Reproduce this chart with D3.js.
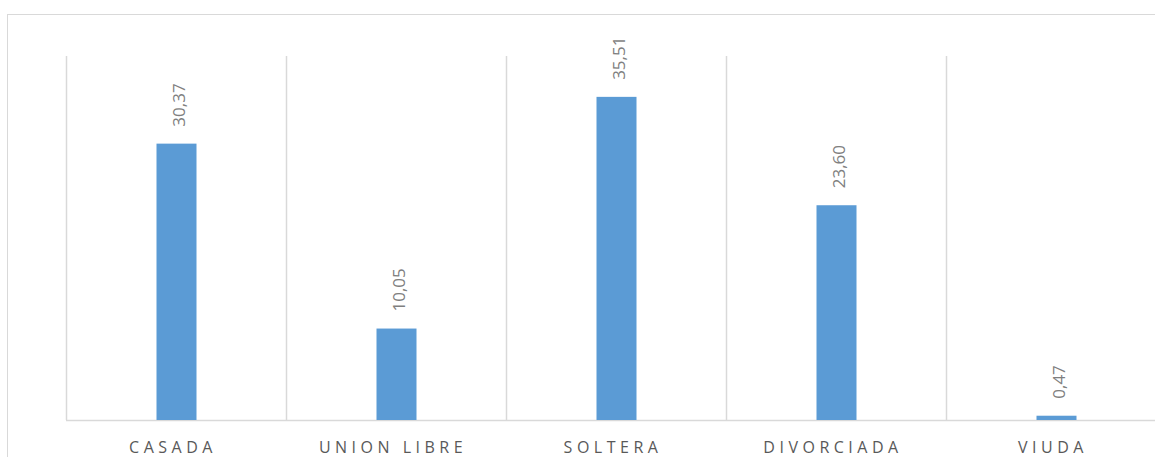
<!DOCTYPE html>
<html lang="es">
<head>
    <meta charset="UTF-8">
    <title>Estado civil</title>
    <style>
        body {
            background: white;
            margin: 0;
            padding: 0;
        }
        .cat-label {
            font: 16px "Open Sans", sans-serif;
            fill: #595959;
            letter-spacing: 4.5px;
        }
        .val-label {
            font: 17px "Open Sans", sans-serif;
            fill: #7f7f7f;
        }
        .bar {
            fill: #5b9bd5;
        }
    </style>
</head>
<body>
    <script src="https://cdn.jsdelivr.net/npm/d3@7"></script>
    <script>
        var categories = ['CASADA', 'UNION LIBRE', 'SOLTERA', 'DIVORCIADA', 'VIUDA'];
        var values = [30.37, 10.05, 35.51, 23.60, 0.47];

        var width = 1155, height = 457;
        var svg = d3.select('body').append('svg')
            .attr('width', width)
            .attr('height', height);

        // marco del grafico
        svg.append('rect')
            .attr('x', 7.5).attr('y', 14.5)
            .attr('width', 1200).attr('height', 500)
            .attr('fill', 'none')
            .attr('stroke', '#d9d9d9');

        var x = d3.scaleBand()
            .domain(categories)
            .range([66.5, 1166.5])
            .paddingInner(0)
            .paddingOuter(0);

        var y = d3.scaleLinear()
            .domain([0, 40])
            .range([420, 56]);

        // lineas verticales entre categorias
        var bounds = categories.map(function(c) { return x(c); });
        svg.selectAll('line.grid')
            .data(bounds)
            .enter().append('line')
            .attr('class', 'grid')
            .attr('x1', function(d) { return d; })
            .attr('x2', function(d) { return d; })
            .attr('y1', y(40))
            .attr('y2', y(0))
            .attr('stroke', '#d9d9d9')
            .attr('stroke-width', 1.5);

        svg.append('line')
            .attr('x1', 66).attr('x2', 1166)
            .attr('y1', y(0) + 0.5).attr('y2', y(0) + 0.5)
            .attr('stroke', '#d9d9d9')
            .attr('stroke-width', 1.5);

        var barW = 40;
        var data = categories.map(function(c, i) { return { cat: c, val: values[i] }; });

        svg.selectAll('rect.bar')
            .data(data)
            .enter().append('rect')
            .attr('class', 'bar')
            .attr('x', function(d) { return x(d.cat) + x.bandwidth() / 2 - barW / 2; })
            .attr('y', function(d) { return y(d.val); })
            .attr('width', barW)
            .attr('height', function(d) { return y(0) - y(d.val); });

        var fmt = function(v) { return v.toFixed(2).replace('.', ','); };

        svg.selectAll('text.val-label')
            .data(data)
            .enter().append('text')
            .attr('class', 'val-label')
            .attr('transform', function(d) {
                var cx = x(d.cat) + x.bandwidth() / 2;
                return 'translate(' + (cx + 8.5) + ',' + (y(d.val) - 17) + ') rotate(-90)';
            })
            .attr('text-anchor', 'start')
            .text(function(d) { return fmt(d.val); });

        svg.selectAll('text.cat-label')
            .data(categories)
            .enter().append('text')
            .attr('class', 'cat-label')
            .attr('x', function(d) { return x(d) + x.bandwidth() / 2 - 3.5; })
            .attr('y', 453)
            .attr('text-anchor', 'middle')
            .text(function(d) { return d; });
    </script>
</body>
</html>
